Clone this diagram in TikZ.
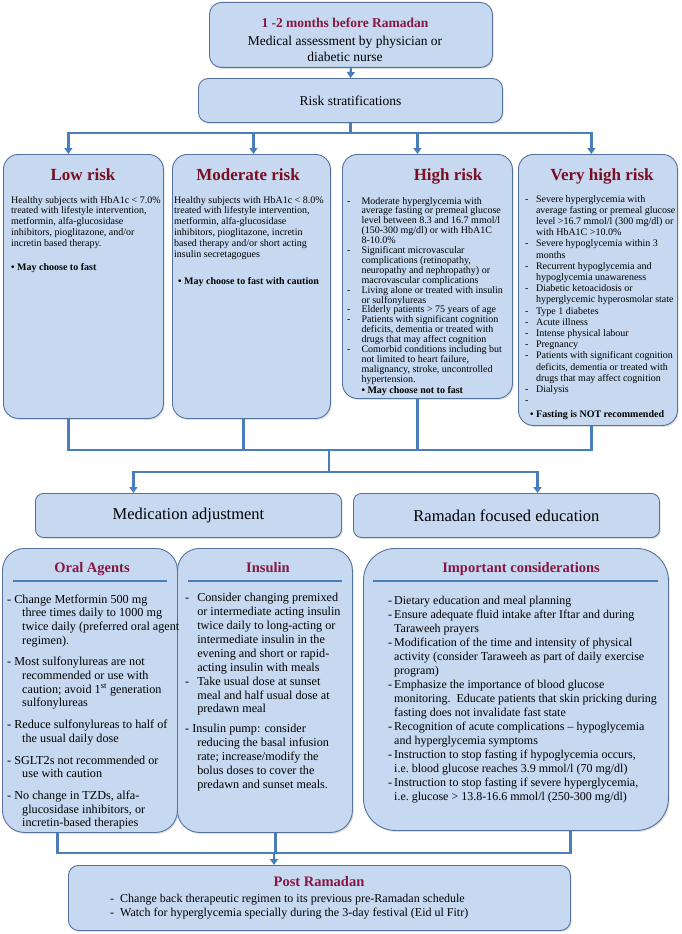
\documentclass[tikz,border=0pt]{standalone}
\usepackage{fontspec}
\setmainfont{Liberation Serif}
\usepackage{tikz}
\usetikzlibrary{arrows.meta,positioning,shadows}
\definecolor{boxfill}{RGB}{198,217,240}
\definecolor{boxline}{RGB}{84,114,158}
\definecolor{linkblue}{RGB}{74,126,187}
\definecolor{riskred}{RGB}{122,14,34}
\definecolor{headred}{RGB}{134,22,68}
\newcommand{\hcont}{\hspace*{15pt}}
\tikzset{
  flow/.style={x=1pt,y=-1pt,>={Triangle[width=8pt,length=6pt]}},
  panel/.style={draw=boxline,line width=0.9pt,fill=boxfill,anchor=north west,inner sep=0pt,
    drop shadow={shadow xshift=1.2pt,shadow yshift=-1.5pt,opacity=0.25}},
  risktitle/.style={text=riskred,font=\fontsize{17}{20}\selectfont\bfseries,anchor=base,inner sep=0pt},
  headtitle/.style={text=headred,font=\fontsize{14.5}{17}\selectfont\bfseries,anchor=base,inner sep=0pt},
  riskbody/.style={anchor=base west,inner sep=0pt,font=\fontsize{10}{#1}\selectfont},
  listbody/.style={anchor=base west,inner sep=0pt},
  link/.style={draw=linkblue,line width=2.2pt},
  linkarrow/.style={link,->},
  rule/.style={draw=linkblue,line width=2.4pt},
}

\begin{document}
\begin{tikzpicture}[flow]
\useasboundingbox (0,0) rectangle (682,934);
% assessment and stratification
\node[panel,minimum width=283pt,minimum height=65pt,rounded corners=12pt] (assess) at (209,2) {};
\node[anchor=base,inner sep=0pt,font=\fontsize{13.5}{15.5}\selectfont] (assess-t) at (345,28)
  {\begin{tabular}[t]{@{}c@{}}\textcolor{headred}{\textbf{1 -2 months before Ramadan}}\\[2.5pt]
   Medical assessment by physician or\\ diabetic nurse\end{tabular}};
\node[panel,minimum width=304pt,minimum height=44pt,rounded corners=10pt,
  font=\fontsize{13.5}{16}\selectfont] (strat) at (198,78) {Risk stratifications};
\draw[linkarrow] (assess.south) -- (strat.north);

% risk groups
\foreach \n/\x/\w/\h in {low/3/160/264,mod/172/158/264,high/342/170/244,vhigh/518/159/271}
  \node[panel,minimum width=\w pt,minimum height=\h pt,rounded corners=15pt] (\n) at (\x,154) {};
\foreach \n/\x/\txt in {low/83/Low risk,mod/248/Moderate risk,high/448/High risk,vhigh/602/Very high risk}
  \node[risktitle] (\n-t) at (\x,180) {\txt};

\node[riskbody=10.8] (low-b) at (11,203) {\begin{tabular}[t]{@{}l@{}}
Healthy subjects with HbA1c < 7.0\%\\
treated with lifestyle intervention,\\
metformin, alfa-glucosidase\\
inhibitors, pioglitazone, and/or\\
incretin based therapy.\\[13pt]
\textbf{\textbullet\ May choose to fast}\end{tabular}};

\node[riskbody=10.8] (mod-b) at (174,203) {\begin{tabular}[t]{@{}l@{}}
Healthy subjects with HbA1c < 8.0\%\\
treated with lifestyle intervention,\\
metformin, alfa-glucosidase\\
inhibitors, pioglitazone, incretin\\
based therapy and/or short acting\\
insulin secretagogues\\[17pt]
\hspace*{4pt}\textbf{\textbullet\ May choose to fast with caution}\end{tabular}};

\node[riskbody=9.8] (high-b) at (347,204) {\begin{tabular}[t]{@{}l@{\hspace{11pt}}l@{}}
- & Moderate hyperglycemia with\\
  & average fasting or premeal glucose\\
  & level between 8.3 and 16.7 mmol/l\\
  & (150-300 mg/dl) or with HbA1C\\
  & 8-10.0\%\\
- & Significant microvascular\\
  & complications (retinopathy,\\
  & neuropathy and nephropathy) or\\
  & macrovascular complications\\
- & Living alone or treated with insulin\\
  & or sulfonylureas\\
- & Elderly patients > 75 years of age\\
- & Patients with significant cognition\\
  & deficits, dementia or treated with\\
  & drugs that may affect cognition\\
- & Comorbid conditions including but\\
  & not limited to heart failure,\\
  & malignancy, stroke, uncontrolled\\
  & hypertension.\\[1pt]
  & \textbf{\textbullet\ May choose not to fast}\end{tabular}};

\node[riskbody=11.2] (vhigh-b) at (525,202) {\begin{tabular}[t]{@{}l@{\hspace{7.5pt}}l@{}}
- & Severe hyperglycemia with\\
  & average fasting or premeal glucose\\
  & level >16.7 mmol/l (300 mg/dl) or\\
  & with HbA1C >10.0\%\\
- & Severe hypoglycemia within 3\\
  & months\\
- & Recurrent hypoglycemia and\\
  & hypoglycemia unawareness\\
- & Diabetic ketoacidosis or\\
  & hyperglycemic hyperosmolar state\\
- & Type 1 diabetes\\
- & Acute illness\\
- & Intense physical labour\\
- & Pregnancy\\
- & Patients with significant cognition\\
  & deficits, dementia or treated with\\
  & drugs that may affect cognition\\
- & Dialysis\\
- & \\[2.6pt]
\multicolumn{2}{@{}l@{}}{\hspace*{5pt}\textbf{\textbullet\ Fasting is NOT recommended}}\end{tabular}};

\draw[link] (strat.south) -- ++(0,10) coordinate (fork);
\foreach \n/\dx in {low/-15,mod/2,high/-10,vhigh/-6.5}
  \draw[linkarrow] (fork) -| ([xshift=\dx pt]\n.north);

% management
\coordinate (merge) at (329,450);
\foreach \n/\dx in {low/-15,mod/-8,high/-10,vhigh/-6.5}
  \draw[link] ([xshift=\dx pt]\n.south) |- (merge);
\node[panel,minimum width=306pt,minimum height=44pt,rounded corners=8pt,
  font=\fontsize{16.5}{19}\selectfont] (medadj) at (35,493) {Medication adjustment};
\node[panel,minimum width=306pt,minimum height=44pt,rounded corners=8pt,
  font=\fontsize{16.5}{19}\selectfont] (educ) at (353,493) {Ramadan focused education};
\draw[link] (merge) -- ++(0,22) coordinate (split);
\draw[linkarrow] (split) -| ([xshift=-55pt]medadj.north);
\draw[linkarrow] (split) -| ([xshift=31pt]educ.north);

\node[panel,minimum width=175pt,minimum height=284pt,rounded corners=22pt] (oral) at (2,548) {};
\node[panel,minimum width=175pt,minimum height=284pt,rounded corners=22pt] (insul) at (177,548) {};
\node[panel,minimum width=305pt,minimum height=282pt,rounded corners=32pt] (imp) at (363,548) {};
\node[headtitle] (oral-t) at (92,572) {Oral Agents};
\node[headtitle] (insul-t) at (268,572) {Insulin};
\node[headtitle] (imp-t) at (521,572) {Important considerations};
\draw[rule] ([xshift=11pt,yshift=-33pt]oral.north west) -- ([xshift=-11pt,yshift=-33pt]oral.north east);
\draw[rule] ([xshift=11pt,yshift=-33pt]insul.north west) -- ([xshift=-11pt,yshift=-33pt]insul.north east);
\draw[rule] ([xshift=10pt,yshift=-33pt]imp.north west) -- ([xshift=-11pt,yshift=-33pt]imp.north east);

\node[listbody,font=\fontsize{12.2}{13.7}\selectfont] (oral-b) at (7,603) {\begin{tabular}[t]{@{}l@{}}
-~Change Metformin 500 mg\\
\hcont three times daily to 1000 mg\\
\hcont twice daily (preferred oral agent\\
\hcont regimen).\\[8pt]
-~Most sulfonylureas are not\\
\hcont recommended or use with\\
\hcont caution; avoid 1\textsuperscript{st} generation\\
\hcont sulfonylureas\\[8pt]
-~Reduce sulfonylureas to half of\\
\hcont the usual daily dose\\[8pt]
-~SGLT2s not recommended or\\
\hcont use with caution\\[8pt]
-~No change in TZDs, alfa-\\
\hcont glucosidase inhibitors, or\\
\hcont incretin-based therapies\end{tabular}};

\node[listbody,font=\fontsize{12.2}{13.9}\selectfont] (insul-b) at (185,601.7) {\begin{tabular}[t]{@{}l@{\hspace{8pt}}l@{}}
- & Consider changing premixed\\
  & or intermediate acting insulin\\
  & twice daily to long-acting or\\
  & intermediate insulin in the\\
  & evening and short or rapid-\\
  & acting insulin with meals\\
- & Take usual dose at sunset\\
  & meal and half usual dose at\\
  & predawn meal\\[6pt]
\multicolumn{2}{@{}l@{}}{-~Insulin pump: consider}\\
  & reducing the basal infusion\\
  & rate; increase/modify the\\
  & bolus doses to cover the\\
  & predawn and sunset meals.\end{tabular}};

\node[listbody,font=\fontsize{12}{14}\selectfont] (imp-b) at (388,604) {\begin{tabular}[t]{@{}l@{\hspace{2pt}}l@{}}
- & Dietary education and meal planning\\
- & Ensure adequate fluid intake after Iftar and during\\
  & Taraweeh prayers\\
- & Modification of the time and intensity of physical\\
  & activity (consider Taraweeh as part of daily exercise\\
  & program)\\
- & Emphasize the importance of blood glucose\\
  & monitoring.\ \ Educate patients that skin pricking during\\
  & fasting does not invalidate fast state\\
- & Recognition of acute complications -- hypoglycemia\\
  & and hyperglycemia symptoms\\
- & Instruction to stop fasting if hypoglycemia occurs,\\
  & i.e.\ blood glucose reaches 3.9 mmol/l (70 mg/dl)\\
- & Instruction to stop fasting if severe hyperglycemia,\\
  & i.e.\ glucose > 13.8-16.6 mmol/l (250-300 mg/dl)\end{tabular}};

% after Ramadan
\node[panel,minimum width=502pt,minimum height=65pt,rounded corners=10pt] (post) at (68,865) {};
\node[headtitle] (post-t) at (319,886) {Post Ramadan};
\node[listbody,font=\fontsize{12}{14}\selectfont] (post-b) at (110,902) {\begin{tabular}[t]{@{}l@{\hspace{6pt}}l@{}}
- & Change back therapeutic regimen to its previous pre-Ramadan schedule\\
- & Watch for hyperglycemia specially during the 3-day festival (Eid ul Fitr)\end{tabular}};
\coordinate (gather) at (274,853);
\draw[link] ([xshift=-32.5pt]oral.south) |- (gather);
\draw[link] ([xshift=54.5pt]imp.south) |- (gather);
\draw[link] ([xshift=10.5pt]insul.south) |- (gather);
\draw[linkarrow] (gather) -- (gather |- post.north);
\end{tikzpicture}
\end{document}
